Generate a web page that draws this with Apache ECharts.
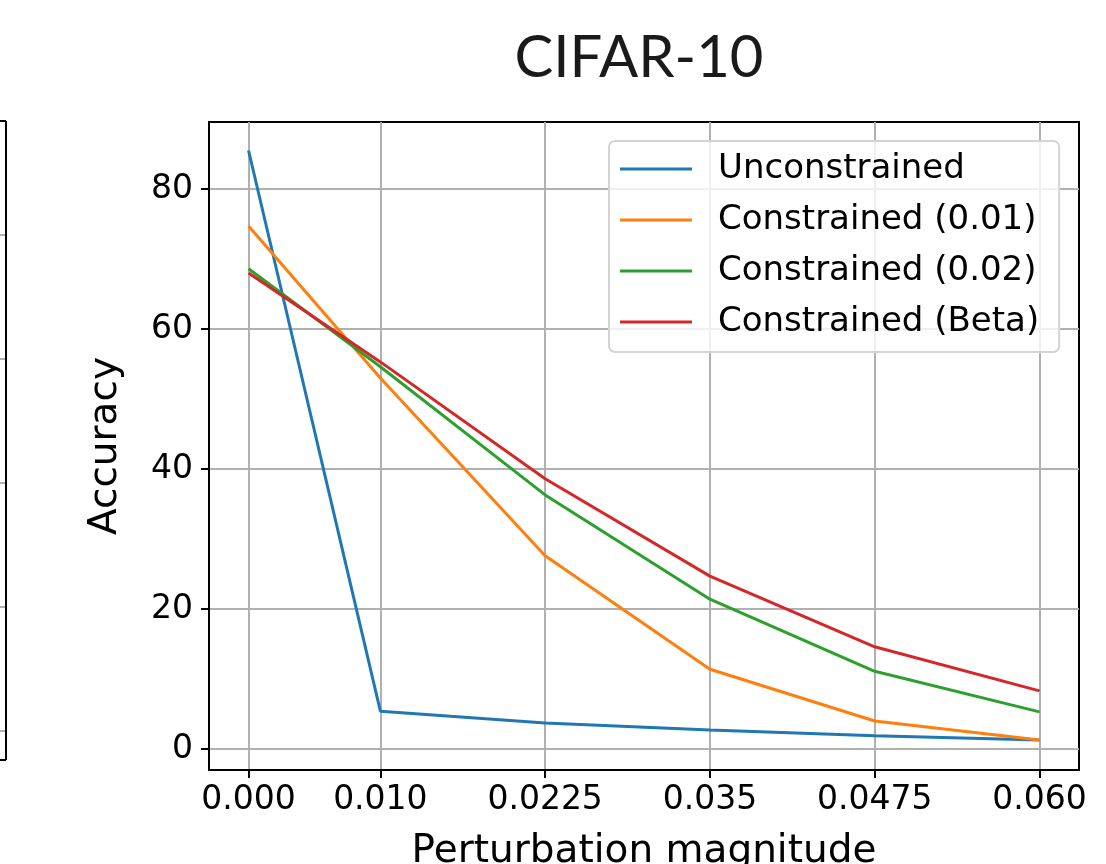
<!DOCTYPE html>
<html>
<head>
<meta charset="utf-8">
<script src="https://cdn.jsdelivr.net/npm/echarts@6/dist/echarts.min.js"></script>
<style>
html,body{margin:0;padding:0;background:#fff;}
#chart{width:1106px;height:864px;}
</style>
</head>
<body>
<div id="chart"></div>
<script>
// ---- data ----
const xValues = [0.000, 0.010, 0.0225, 0.035, 0.0475, 0.060];
const xTickLabels = ['0.000', '0.010', '0.0225', '0.035', '0.0475', '0.060'];
const yTicks = [0, 20, 40, 60, 80];
const seriesNames = ['Unconstrained', 'Constrained (0.01)', 'Constrained (0.02)', 'Constrained (Beta)'];
const unconstrained = [85.5, 5.4, 3.7, 2.7, 1.9, 1.3];
const constrained001 = [74.7, 53.0, 27.6, 11.4, 4.0, 1.3];
const constrained002 = [68.6, 54.6, 36.3, 21.4, 11.1, 5.3];
const constrainedBeta = [68.0, 55.3, 38.6, 24.7, 14.6, 8.3];
const colors = ['#1f77b4', '#ff7f0e', '#2ca02c', '#d62728'];

const allSeries = [unconstrained, constrained001, constrained002, constrainedBeta];
const FONT = 'DejaVu Sans';

const chart = echarts.init(document.getElementById('chart'), null, {renderer: 'canvas'});
const labelMap = {};
xValues.forEach((v, i) => { labelMap[v.toFixed(4)] = xTickLabels[i]; });

const option = {
  animation: false,
  backgroundColor: '#ffffff',
  title: {
    text: 'CIFAR-10',
    left: 634, top: 24,
    textAlign: 'center',
    textStyle: {fontFamily: 'Lato', fontWeight: 400, fontSize: 58, color: '#1a1a1a'}
  },
  grid: {
    left: 209, right: 27, top: 122, bottom: 94,
    containLabel: false, outerBoundsMode: 'none',
    show: true, borderColor: '#000', borderWidth: 2, backgroundColor: 'transparent'
  },
  legend: {
    orient: 'vertical',
    left: 609, top: 141,
    padding: [8, 20, 10, 11],
    itemWidth: 72, itemHeight: 20,
    itemGap: 11,
    backgroundColor: 'rgba(255,255,255,0.8)',
    borderColor: '#d4d4d4', borderWidth: 2, borderRadius: 6,
    textStyle: {fontFamily: FONT, fontSize: 34, color: '#000', lineHeight: 40, padding: [0, 0, 0, 21]},
    data: seriesNames.map((n, i) => ({name: n, icon: 'path://M0,0 L72,0 L72,3 L0,3 Z', itemStyle: {color: colors[i]}}))
  },
  xAxis: {
    type: 'value',
    min: -0.003, max: 0.063,
    name: 'Perturbation magnitude',
    nameLocation: 'middle', nameGap: 62,
    nameTextStyle: {fontFamily: FONT, fontSize: 39, color: '#000'},
    axisLine: {show: true, onZero: false, lineStyle: {color: '#000', width: 2}},
    axisTick: {show: true, customValues: xValues, length: 8, inside: false, lineStyle: {color: '#000', width: 2}},
    axisLabel: {
      customValues: xValues, margin: 14,
      fontFamily: FONT, fontSize: 33, color: '#000',
      formatter: v => labelMap[Number(v).toFixed(4)] || ''
    },
    splitLine: {show: true, lineStyle: {color: '#b0b0b0', width: 2}}
  },
  yAxis: {
    type: 'value',
    min: -3, max: 89.57,
    name: 'Accuracy',
    nameLocation: 'middle', nameGap: 84,
    nameTextStyle: {fontFamily: FONT, fontSize: 39, color: '#000'},
    axisLine: {show: true, onZero: false, lineStyle: {color: '#000', width: 2}},
    axisTick: {show: true, customValues: yTicks, length: 8, lineStyle: {color: '#000', width: 2}},
    axisLabel: {customValues: yTicks, margin: 16, fontFamily: FONT, fontSize: 33, color: '#000'},
    splitLine: {show: true, lineStyle: {color: '#b0b0b0', width: 2}}
  },
  series: allSeries.map((arr, i) => ({
    name: seriesNames[i],
    type: 'line',
    data: xValues.map((x, j) => [x, arr[j]]),
    symbol: 'none',
    lineStyle: {color: colors[i], width: 3},
    itemStyle: {color: colors[i]},
    z: 3 + i
  })),
  graphic: [
    {type: 'line', shape: {x1: 6, y1: 121, x2: 6, y2: 760}, style: {stroke: '#000', lineWidth: 2}, z: 10},
    {type: 'line', shape: {x1: 0, y1: 121, x2: 6, y2: 121}, style: {stroke: '#000', lineWidth: 2}, z: 10},
    {type: 'line', shape: {x1: 0, y1: 760, x2: 6, y2: 760}, style: {stroke: '#000', lineWidth: 2}, z: 10},
    {type: 'line', shape: {x1: 0, y1: 235, x2: 5, y2: 235}, style: {stroke: '#b0b0b0', lineWidth: 2}, z: 9},
    {type: 'line', shape: {x1: 0, y1: 359, x2: 5, y2: 359}, style: {stroke: '#b0b0b0', lineWidth: 2}, z: 9},
    {type: 'line', shape: {x1: 0, y1: 483, x2: 5, y2: 483}, style: {stroke: '#b0b0b0', lineWidth: 2}, z: 9},
    {type: 'line', shape: {x1: 0, y1: 607, x2: 5, y2: 607}, style: {stroke: '#b0b0b0', lineWidth: 2}, z: 9},
    {type: 'line', shape: {x1: 0, y1: 731, x2: 5, y2: 731}, style: {stroke: '#b0b0b0', lineWidth: 2}, z: 9}
  ]
};
chart.setOption(option);
</script>
</body>
</html>
